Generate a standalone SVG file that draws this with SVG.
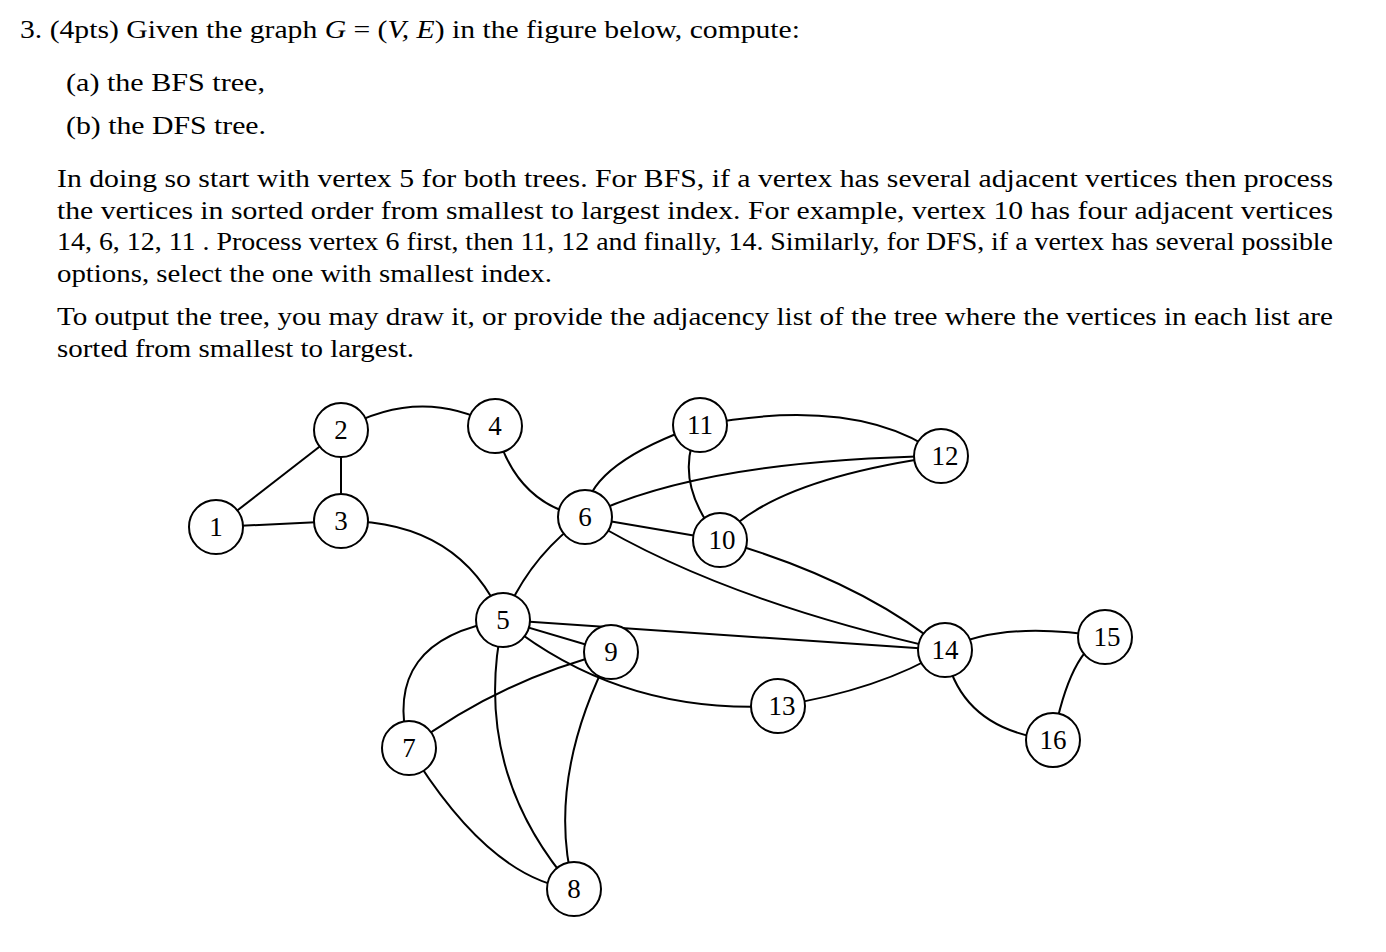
<svg xmlns="http://www.w3.org/2000/svg" width="1386" height="952" viewBox="0 0 1386 952">
<style>
.t{font-family:"Liberation Serif",serif;font-size:26px;fill:#000}
.n circle{fill:#fff;stroke:#000;stroke-width:2}
.n text{font-family:"Liberation Serif",serif;font-size:27px;text-anchor:middle}
#edges path{fill:none;stroke:#000;stroke-width:2}
</style>
<rect width="1386" height="952" fill="#fff"/>
<text class="t" x="20" y="38" textLength="780" lengthAdjust="spacingAndGlyphs">3. (4pts) Given the graph <tspan font-style="italic">G</tspan> = (<tspan font-style="italic">V, E</tspan>) in the figure below, compute:</text>
<text class="t" x="66" y="91" textLength="199" lengthAdjust="spacingAndGlyphs">(a)  the BFS tree,</text>
<text class="t" x="66" y="134" textLength="200" lengthAdjust="spacingAndGlyphs">(b)  the DFS tree.</text>
<text class="t" x="57" y="187" textLength="1276" lengthAdjust="spacingAndGlyphs">In doing so start with vertex 5 for both trees.  For BFS, if a vertex has several adjacent vertices then process</text>
<text class="t" x="57" y="219" textLength="1276" lengthAdjust="spacingAndGlyphs">the vertices in sorted order from smallest to largest index.  For example, vertex 10 has four adjacent vertices</text>
<text class="t" x="57" y="250" textLength="1276" lengthAdjust="spacingAndGlyphs">14, 6, 12, 11 . Process vertex 6 first, then 11, 12 and finally, 14. Similarly, for DFS, if a vertex has several possible</text>
<text class="t" x="57" y="282" textLength="495" lengthAdjust="spacingAndGlyphs">options, select the one with smallest index.</text>
<text class="t" x="57" y="325" textLength="1276" lengthAdjust="spacingAndGlyphs">To output the tree, you may draw it, or provide the adjacency list of the tree where the vertices in each list are</text>
<text class="t" x="57" y="357" textLength="357" lengthAdjust="spacingAndGlyphs">sorted from smallest to largest.</text>
<g id="edges">
<path d="M216,527 L341,430"/>
<path d="M216,527 L341,521"/>
<path d="M341,430 L341,521"/>
<path d="M341,430 Q420,385 495,426"/>
<path d="M495,426 Q515,505 585,517"/>
<path d="M341,521 Q460,520 503,620"/>
<path d="M503,620 Q530,555 585,517"/>
<path d="M585,517 Q585,465 700,425"/>
<path d="M585,517 Q700,460 941,456"/>
<path d="M585,517 L720,540"/>
<path d="M700,425 Q860,395 941,456"/>
<path d="M700,425 Q670,480 720,540"/>
<path d="M720,540 Q770,480 941,456"/>
<path d="M585,517 Q720,600 945,650"/>
<path d="M720,540 Q860,580 945,650"/>
<path d="M503,620 Q720,635 945,650"/>
<path d="M503,620 L611,652"/>
<path d="M503,620 Q620,715 778,706"/>
<path d="M778,706 Q880,690 945,650"/>
<path d="M611,652 Q500,680 409,748"/>
<path d="M611,652 Q545,780 574,889"/>
<path d="M503,620 Q470,770 574,889"/>
<path d="M503,620 Q380,640 409,748"/>
<path d="M409,748 Q490,880 574,889"/>
<path d="M945,650 Q1000,620 1105,637"/>
<path d="M945,650 Q960,730 1053,740"/>
<path d="M1105,637 Q1070,650 1053,740"/>
</g>
<g class="n" id="n1"><circle cx="216" cy="527" r="27"/><text x="216" y="536">1</text></g>
<g class="n" id="n2"><circle cx="341" cy="430" r="27"/><text x="341" y="439">2</text></g>
<g class="n" id="n3"><circle cx="341" cy="521" r="27"/><text x="341" y="530">3</text></g>
<g class="n" id="n4"><circle cx="495" cy="426" r="27"/><text x="495" y="435">4</text></g>
<g class="n" id="n5"><circle cx="503" cy="620" r="27"/><text x="503" y="629">5</text></g>
<g class="n" id="n6"><circle cx="585" cy="517" r="27"/><text x="585" y="526">6</text></g>
<g class="n" id="n7"><circle cx="409" cy="748" r="27"/><text x="409" y="757">7</text></g>
<g class="n" id="n8"><circle cx="574" cy="889" r="27"/><text x="574" y="898">8</text></g>
<g class="n" id="n9"><circle cx="611" cy="652" r="27"/><text x="611" y="661">9</text></g>
<g class="n" id="n10"><circle cx="720" cy="540" r="27"/><text x="722" y="549">10</text></g>
<g class="n" id="n11"><circle cx="700" cy="425" r="27"/><text x="700" y="434">11</text></g>
<g class="n" id="n12"><circle cx="941" cy="456" r="27"/><text x="945" y="465">12</text></g>
<g class="n" id="n13"><circle cx="778" cy="706" r="27"/><text x="782" y="715">13</text></g>
<g class="n" id="n14"><circle cx="945" cy="650" r="27"/><text x="945" y="659">14</text></g>
<g class="n" id="n15"><circle cx="1105" cy="637" r="27"/><text x="1107" y="646">15</text></g>
<g class="n" id="n16"><circle cx="1053" cy="740" r="27"/><text x="1053" y="749">16</text></g>
</svg>
